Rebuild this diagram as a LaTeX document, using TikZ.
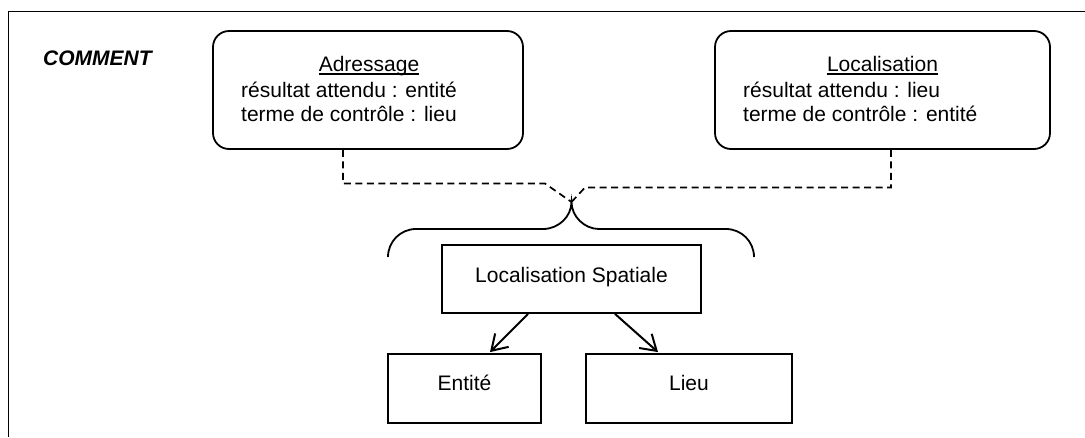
\documentclass[tikz,border=0pt]{standalone}
\usepackage{fontspec}
\setmainfont{Liberation Sans}
\usetikzlibrary{arrows.meta,calc}
\newcommand{\ulin}[1]{{\setbox0\hbox{#1}\rlap{\rule[-3.6pt]{\wd0}{1.5pt}}\box0}}
\begin{document}
\begin{tikzpicture}[x=1pt,y=-1pt,
  txt/.style={font=\fontsize{21}{24}\selectfont, inner sep=0pt},
  box/.style={draw, line width=1.8pt, inner sep=0pt},
  rbox/.style={box, rounded corners=16pt},
  dashline/.style={line width=1.7pt, dash pattern=on 7pt off 4.5pt},
  arr/.style={line width=2pt, -{Straight Barb[length=15pt,width=19pt,line width=2pt]}}
]
\useasboundingbox (0,0) rectangle (1085,437);
% frame
\draw[line width=1.8pt] (1085,11.5) -- (8.5,11.5) -- (8.5,437);
% label
\node[txt, font=\fontsize{21}{24}\selectfont\bfseries\itshape, anchor=base west] (cm) at (43,65) {COMMENT};
% upper boxes
\node[rbox, minimum width=310pt, minimum height=118pt] (adr) at (368,90) {};
\node[txt, anchor=base] (adrt) at (369,71) {\ulin{Adressage}};
\node[txt, anchor=base west] (adr1) at (241,97) {résultat attendu : entité};
\node[txt, anchor=base west] (adr2) at (241,121) {terme de contrôle : lieu};

\node[rbox, minimum width=335pt, minimum height=118pt] (loc) at (882.5,90) {};
\node[txt, anchor=base] (loct) at (882.5,71) {\ulin{Localisation}};
\node[txt, anchor=base west] (loc1) at (743,97) {résultat attendu : lieu};
\node[txt, anchor=base west] (loc2) at (743,121) {terme de contrôle : entité};

% lower boxes
\node[box, txt, minimum width=259pt, minimum height=68pt, text height=15pt, text depth=9pt] (ls) at (571.5,279) {Localisation Spatiale};
\node[box, txt, minimum width=153pt, minimum height=69pt, text height=15pt, text depth=12pt] (ent) at (464.5,388.5) {Entité};
\node[box, txt, minimum width=206pt, minimum height=69pt, text height=15pt, text depth=12pt] (lieu) at (689,388.5) {Lieu};

% brace
\coordinate (tip) at (571.5,202);
\draw[line width=1.8pt] (388,257) .. controls (388,241.5) and (400.5,229) .. (416,229) -- (543,229)
  .. controls (558.5,229) and (571.5,216.5) .. (tip)
  .. controls (571.5,216.5) and (584.5,229) .. (599,229) -- (726,229)
  .. controls (741.5,229) and (754,241.5) .. (754,257);

% dashed connectors
\draw[dashline] ($(adr.south)+(-25,0)$) |- (545,183.5) -- (tip);
\draw[dashline] ($(loc.south)+(8.5,0)$) |- (585,187.5) -- (tip);

% arrows
\draw[arr] ($(ls.south)+(-43.5,0)$) -- ($(ent.north)+(25.5,-1)$);
\draw[arr] ($(ls.south)+(43.5,0)$) -- ($(lieu.north)+(-31,-1)$);
\end{tikzpicture}
\end{document}
